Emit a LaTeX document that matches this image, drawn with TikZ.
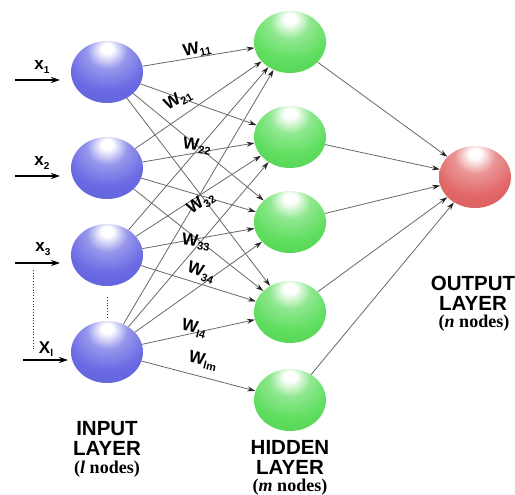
\documentclass[tikz,border=0pt]{standalone}
\usepackage{fontspec}
\setmainfont{Liberation Serif}
\setsansfont{Liberation Sans}
\usetikzlibrary{arrows.meta,shapes.geometric}

% sphere colours
\definecolor{blueBody}{RGB}{106,106,228}
\definecolor{blueEdge}{RGB}{86,86,206}
\definecolor{greenBody}{RGB}{96,222,96}
\definecolor{greenEdge}{RGB}{70,196,70}
\definecolor{redBody}{RGB}{226,104,104}
\definecolor{redEdge}{RGB}{204,84,84}
\definecolor{wire}{RGB}{104,104,104}

% glossy spheres: highlight near the top, darker rim
\pgfdeclareradialshading{bluesph}{\pgfpoint{0bp}{20bp}}{%
  color(0bp)=(white); color(4bp)=(white); color(14bp)=(blueBody!70!white);
  color(28bp)=(blueBody); color(54bp)=(blueEdge); color(80bp)=(blueEdge)}
\pgfdeclareradialshading{greensph}{\pgfpoint{0bp}{20bp}}{%
  color(0bp)=(white); color(4bp)=(white); color(14bp)=(greenBody!70!white);
  color(28bp)=(greenBody); color(54bp)=(greenEdge); color(80bp)=(greenEdge)}
\pgfdeclareradialshading{redsph}{\pgfpoint{0bp}{20bp}}{%
  color(0bp)=(white); color(4bp)=(white); color(14bp)=(redBody!70!white);
  color(28bp)=(redBody); color(54bp)=(redEdge); color(80bp)=(redEdge)}

\newcommand\wsub[3][10]{#2\raisebox{-3.5pt}{\fontsize{#1}{#1}\selectfont #3}}

\begin{document}
\begin{tikzpicture}[x=1pt,y=-1pt,
  sphere/.style={ellipse, minimum width=72pt, minimum height=62pt, inner sep=0pt},
  insph/.style={sphere, shading=bluesph},
  hidsph/.style={sphere, shading=greensph},
  outsph/.style={sphere, shading=redsph},
  link/.style={draw=wire, line width=0.8pt, -{Stealth[length=8pt,width=5pt,color=black!85]}},
  feed/.style={draw=black, line width=1.1pt, -{Stealth[length=9pt,width=6pt]}},
  wlabel/.style={font=\sffamily\bfseries\fontsize{17}{17}\selectfont, inner sep=0pt},
  xlabel/.style={font=\sffamily\bfseries\fontsize{17}{17}\selectfont, inner sep=0pt},
  layer/.style={font=\sffamily\bfseries\fontsize{20.5}{20}\selectfont, align=center, inner sep=0pt},
  count/.style={font=\rmfamily\bfseries\fontsize{18}{18}\selectfont, inner sep=0pt},
  dots/.style={draw=black!80, line width=0.8pt, dotted}
]
\useasboundingbox (0,0) rectangle (515,495);
\clip (0,0) rectangle (515,495);

% input layer
\node[insph] (i1) at (107,72) {};
\node[insph] (i2) at (107,168) {};
\node[insph] (i3) at (107,255) {};
\node[insph] (il) at (107,352) {};

% hidden layer
\node[hidsph] (h1) at (290,42) {};
\node[hidsph] (h2) at (290,137) {};
\node[hidsph] (h3) at (290,222) {};
\node[hidsph] (h4) at (290,312) {};
\node[hidsph] (h5) at (290,400) {};

% output layer
\node[outsph] (o) at (475,177) {};

% input -> hidden weights
\foreach \s in {i1,i2,i3,il}
  \foreach \t in {h1,h2,h3,h4}
    \draw[link] (\s) -- (\t);
\draw[link] (il) -- (h5);

% hidden -> output
\foreach \t in {h1,h2,h3,h4,h5}
  \draw[link] (\t) -- (o);

% external inputs
\coordinate (a1) at (15,80);  \coordinate (b1) at (60,80);
\coordinate (a2) at (15,176); \coordinate (b2) at (60,176);
\coordinate (a3) at (15,263); \coordinate (b3) at (60,263);
\coordinate (al) at (23,360); \coordinate (bl) at (68,360);
\draw[feed] (a1) -- (b1);
\draw[feed] (a2) -- (b2);
\draw[feed] (a3) -- (b3);
\draw[feed] (al) -- (bl);

\node[xlabel] (lx1) at (42,67)  {\wsub{x}{1}};
\node[xlabel] (lx2) at (42,163) {\wsub{x}{2}};
\node[xlabel] (lx3) at (43,249) {\wsub{x}{3}};
\node[xlabel] (lxl) at (46,349) {\wsub{X}{l}};

% ellipsis marks
\coordinate (d1) at (33,270);  \coordinate (d2) at (33,350);
\coordinate (d3) at (107,297); \coordinate (d4) at (107,318);
\draw[dots] (d1) -- (d2);
\draw[dots] (d3) -- (d4);

% weight labels
\node[wlabel, rotate=12]  (w11) at (197,50)  {\wsub[11]{W}{11}};
\node[wlabel, rotate=30]  (w21) at (178,100) {\wsub[11]{W}{21}};
\node[wlabel, rotate=-8]  (w22) at (197,146) {\wsub[11]{W}{22}};
\node[wlabel, rotate=35]  (w32) at (201,203) {\wsub[11]{W}{32}};
\node[wlabel, rotate=-8]  (w33) at (196,242) {\wsub[11]{W}{33}};
\node[wlabel, rotate=-20] (w34) at (201,273) {\wsub[11]{W}{34}};
\node[wlabel, rotate=-14] (wl4) at (194,329) {\wsub[11]{W}{l4}};
\node[wlabel, rotate=-14] (wlm) at (203,361) {\wsub[11]{W}{lm}};

% layer captions
\node[layer] (tin)  at (107,438) {INPUT\\LAYER};
\node[count] (cin)  at (107,469) {(\textit{l} nodes)};
\node[layer] (thid) at (290,457) {HIDDEN\\LAYER};
\node[count] (chid) at (290,487) {(\textit{m} nodes)};
\node[layer] (tout) at (473,293) {OUTPUT\\LAYER};
\node[count] (cout) at (474,323) {(\textit{n} nodes)};
\end{tikzpicture}
\end{document}
